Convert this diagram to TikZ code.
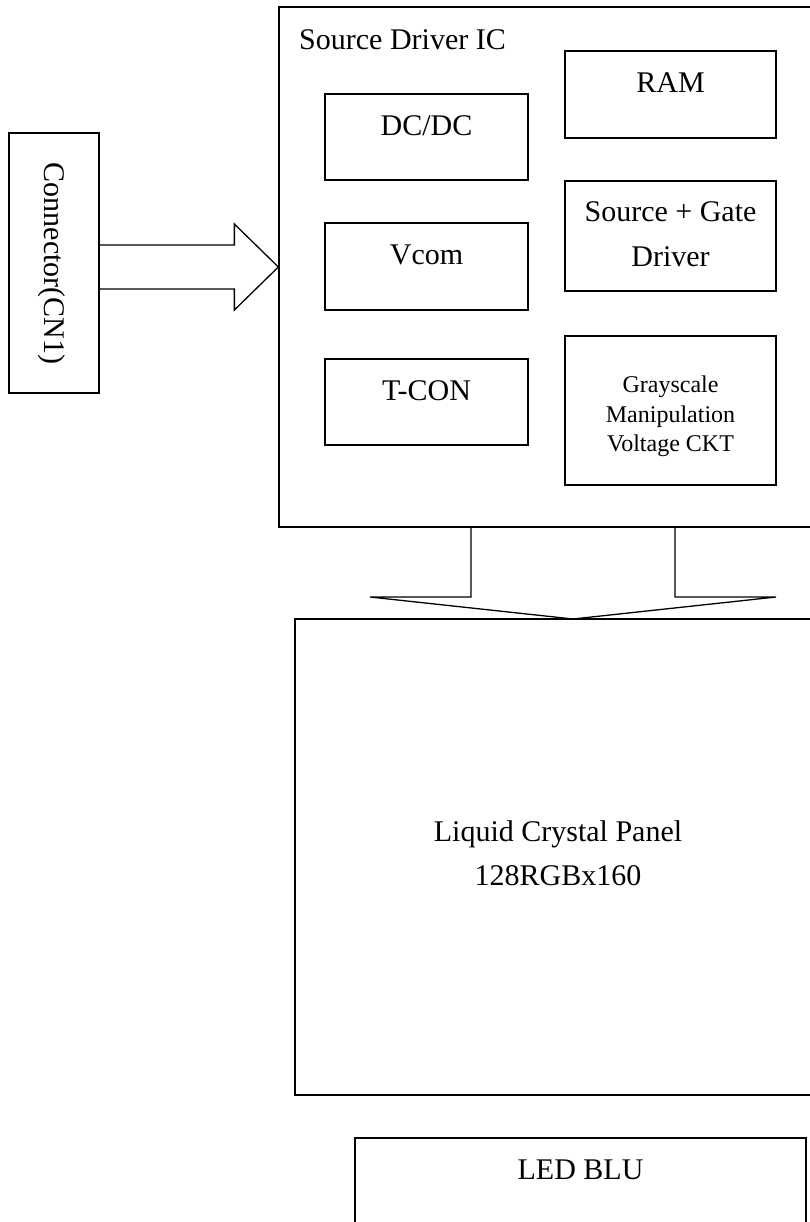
\documentclass[tikz,border=0pt]{standalone}
\usepackage{fontspec}
\setmainfont{Liberation Serif}
\usetikzlibrary{calc}
\begin{document}
\begin{tikzpicture}[x=1pt,y=-1pt,
  blk/.style={draw, line width=1.3pt, rectangle, inner sep=0pt},
  txt/.style={font=\fontsize{30}{36}\selectfont, inner sep=0pt},
  smalltxt/.style={font=\fontsize{24}{29}\selectfont, inner sep=0pt},
  bigarrow/.style={draw, line width=1.3pt, line join=miter}]
\useasboundingbox (0,0) rectangle (810,1222);
\clip (0,0) rectangle (810,1222);

% connector
\node[blk, minimum width=90pt, minimum height=260pt] (conn) at (54,263) {};
\node[txt, rotate=-90, anchor=base] (conntxt) at (44,263.5) {Connector(CN1)};

% source driver IC
\node[blk, minimum width=571pt, minimum height=520pt] (ic) at (564.5,267) {};
\node[txt, anchor=base west] (ictxt) at (299,50) {Source Driver IC};

\node[blk, minimum width=203pt, minimum height=86pt] (dcdc) at (426.5,137) {};
\node[txt, anchor=base] (dcdctxt) at ($(dcdc.north)+(0,42)$) {DC/DC};
\node[blk, minimum width=203pt, minimum height=87pt] (vcom) at (426.5,266.5) {};
\node[txt, anchor=base] (vcomtxt) at ($(vcom.north)+(0,42)$) {Vcom};
\node[blk, minimum width=203pt, minimum height=86pt] (tcon) at (426.5,402) {};
\node[txt, anchor=base] (tcontxt) at ($(tcon.north)+(0,42)$) {T-CON};

\node[blk, minimum width=211pt, minimum height=87pt] (ram) at (670.5,94.5) {};
\node[txt, anchor=base] (ramtxt) at ($(ram.north)+(0,42)$) {RAM};
\node[blk, minimum width=211pt, minimum height=110pt] (sg) at (670.5,236) {};
\node[txt, anchor=base] (sgtxta) at ($(sg.north)+(0,41)$) {Source + Gate};
\node[txt, anchor=base] (sgtxtb) at ($(sg.north)+(0,86)$) {Driver};
\node[blk, minimum width=211pt, minimum height=149pt] (gs) at (670.5,410.5) {};
\node[smalltxt, anchor=base] (gstxta) at ($(gs.north)+(0,57.5)$) {Grayscale};
\node[smalltxt, anchor=base] (gstxtb) at ($(gs.north)+(0,87)$) {Manipulation};
\node[smalltxt, anchor=base] (gstxtc) at ($(gs.north)+(0,116.5)$) {Voltage CKT};

% panel
\node[blk, minimum width=526pt, minimum height=476pt] (panel) at (558,857) {};
\node[txt, anchor=base] (paneltxta) at (558,841) {Liquid Crystal Panel};
\node[txt, anchor=base] (paneltxtb) at (558,885) {128RGBx160};

% LED BLU
\node[blk, minimum width=451pt, minimum height=122pt] (led) at (580.5,1199) {};
\node[txt, anchor=base] (ledtxt) at ($(led.north)+(0,42)$) {LED BLU};

% arrow connector -> IC
\coordinate (a1s) at (conn.east |- ic.west);
\draw[bigarrow] ($(a1s)+(0,-22)$) -- ($(ic.west)+(-44,-22)$) -- ($(ic.west)+(-44,-43)$)
  -- (ic.west) -- ($(ic.west)+(-44,43)$) -- ($(ic.west)+(-44,22)$) -- ($(a1s)+(0,22)$);

% arrow IC -> panel
\coordinate (a2tip) at (573,619);
\path (a2tip) ++(-102,0) coordinate (a2l) (a2tip) ++(102,0) coordinate (a2r);
\draw[bigarrow] (a2l |- ic.south) -- ($(a2tip)+(-102,-22)$) -- ($(a2tip)+(-203,-22)$)
  -- (a2tip) -- ($(a2tip)+(203,-22)$) -- ($(a2tip)+(102,-22)$) -- (a2r |- ic.south);
\end{tikzpicture}
\end{document}
